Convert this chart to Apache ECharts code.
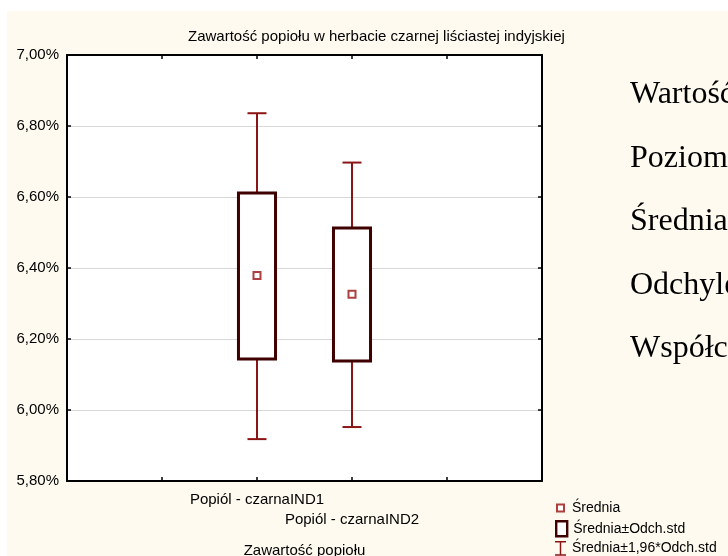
<!DOCTYPE html>
<html>
<head>
<meta charset="utf-8">
<script src="https://cdn.jsdelivr.net/npm/echarts@6/dist/echarts.min.js"></script>
<style>html,body{margin:0;padding:0;background:#fff;}#c{width:728px;height:556px;}</style>
</head>
<body>
<div id="c"></div>
<script>
// ---- data ----
const categories = ['Popiól - czarnaIND1', 'Popiól - czarnaIND2'];
const means   = [6.379, 6.326];
const sdLow   = [6.144, 6.138];
const sdHigh  = [6.611, 6.513];
const ciLow   = [5.918, 5.952];
const ciHigh  = [6.836, 6.697];
const yMin = 5.8, yMax = 7.0, yStep = 0.2;
const chartTitle = 'Zawartość popiołu w herbacie czarnej liściastej indyjskiej';
const xAxisName = 'Zawartość popiołu';
const seriesNames = ['Średnia', 'Średnia±Odch.std', 'Średnia±1,96*Odch.std'];
const sideTexts = ['Wartość', 'Poziom', 'Średnia', 'Odchylenie', 'Współczynnik'];

// category slots: two empty slots on each side as in the reference axis
const slots = ['', ''].concat(categories, ['', '']);
const offset = 2;

const whiskerData = categories.map((c, i) => [i + offset, ciLow[i], ciHigh[i]]);
const boxData = categories.map((c, i) => [i + offset, sdLow[i], sdHigh[i]]);
const meanData = categories.map((c, i) => [i + offset, means[i]]);

const FONT = 'Liberation Sans';
const chart = echarts.init(document.getElementById('c'), null, {renderer: 'canvas'});

const sideGraphics = sideTexts.map((t, i) => ({
  type: 'text', left: 630, top: 79 + i * 63.5, z: 10,
  style: {text: t, font: '32px "Liberation Serif"', fill: '#000'}
}));

chart.setOption({
  backgroundColor: '#fff',
  animation: false,
  title: {
    text: chartTitle, left: 183, top: 24,
    textStyle: {fontFamily: FONT, fontSize: 15, fontWeight: 'normal', color: '#000'}
  },
  graphic: [
    {type: 'rect', z: -100, shape: {x: 7, y: 11, width: 730, height: 560}, style: {fill: '#fefaef'}},
    {type: 'rect', z: -90, shape: {x: 67, y: 55, width: 475, height: 426}, style: {fill: '#ffffff'}}
  ].concat(sideGraphics),
  grid: {left: 67, top: 55, width: 475, height: 426, show: false, containLabel: false, outerBoundsMode: 'none'},
  xAxis: [{
    type: 'category', data: slots, boundaryGap: false, position: 'bottom',
    axisLine: {lineStyle: {color: '#000', width: 2}},
    axisTick: {inside: true, length: 4, interval: 0, lineStyle: {color: '#000', width: 1.5}},
    axisLabel: {
      interval: 0, margin: 9, fontFamily: FONT, fontSize: 15, color: '#000', lineHeight: 20,
      formatter: (v, i) => (i === offset + 1 ? '\n' + v : v)
    },
    name: xAxisName, nameLocation: 'middle', nameGap: 62,
    nameTextStyle: {fontFamily: FONT, fontSize: 15, color: '#000'},
    splitLine: {show: false}
  }, {
    type: 'category', data: slots, boundaryGap: false, position: 'top',
    axisLine: {lineStyle: {color: '#000', width: 2}},
    axisTick: {inside: true, length: 4, interval: 0, lineStyle: {color: '#000', width: 1.5}},
    axisLabel: {show: false}, splitLine: {show: false}
  }],
  yAxis: [{
    type: 'value', min: yMin, max: yMax, interval: yStep, position: 'left',
    axisLine: {show: true, lineStyle: {color: '#000', width: 2}},
    axisTick: {show: true, inside: true, length: 4, lineStyle: {color: '#000', width: 1.5}},
    axisLabel: {
      margin: 8, fontFamily: FONT, fontSize: 15, color: '#000',
      formatter: v => v.toFixed(2).replace('.', ',') + '%'
    },
    splitLine: {show: true, lineStyle: {color: '#d8d8d8', width: 1}}
  }, {
    type: 'value', min: yMin, max: yMax, interval: yStep, position: 'right',
    axisLine: {show: true, lineStyle: {color: '#000', width: 2}},
    axisTick: {show: true, inside: true, length: 4, lineStyle: {color: '#000', width: 1.5}},
    axisLabel: {show: false}, splitLine: {show: false}
  }],
  legend: [
    {left: 556, top: 501, itemWidth: 7, itemHeight: 7, selectedMode: false, padding: 0,
     textStyle: {fontFamily: FONT, fontSize: 14, color: '#000', padding: [0, 0, 0, 3]},
     data: [{name: seriesNames[0], icon: 'rect', itemStyle: {color: '#fff', borderColor: '#9a0f0f', borderWidth: 2}}]},
    {left: 555, top: 520, itemWidth: 11, itemHeight: 15, selectedMode: false, padding: 0,
     textStyle: {fontFamily: FONT, fontSize: 14, color: '#000', padding: [0, 0, 0, 1]},
     data: [{name: seriesNames[1], icon: 'rect', itemStyle: {color: '#fff', borderColor: '#3f0000', borderWidth: 2.4}}]},
    {left: 555, top: 541, itemWidth: 11, itemHeight: 16, selectedMode: false, padding: 0,
     textStyle: {fontFamily: FONT, fontSize: 14, color: '#000', padding: [0, 0, 0, 1]},
     data: [{name: seriesNames[2], icon: 'path://M0,0H12V1.6H6.8V14.4H12V16H0V14.4H5.2V1.6H0Z', itemStyle: {color: '#8b1515'}}]}
  ],
  series: [
    {
      name: seriesNames[2], type: 'custom', z: 2,
      itemStyle: {color: '#8b1515'},
      data: whiskerData,
      renderItem: (params, api) => {
        const x = api.value(0);
        const lo = api.coord([x, api.value(1)]);
        const hi = api.coord([x, api.value(2)]);
        const band = api.size([1, 0])[0];
        const cap = band * 0.1;
        const st = {stroke: '#8b1515', lineWidth: 2};
        return {type: 'group', children: [
          {type: 'line', shape: {x1: lo[0], y1: lo[1], x2: hi[0], y2: hi[1]}, style: st},
          {type: 'line', shape: {x1: hi[0] - cap, y1: hi[1], x2: hi[0] + cap, y2: hi[1]}, style: st},
          {type: 'line', shape: {x1: lo[0] - cap, y1: lo[1], x2: lo[0] + cap, y2: lo[1]}, style: st}
        ]};
      }
    },
    {
      name: seriesNames[1], type: 'custom', z: 3,
      itemStyle: {color: '#3f0000'},
      data: boxData,
      renderItem: (params, api) => {
        const x = api.value(0);
        const lo = api.coord([x, api.value(1)]);
        const hi = api.coord([x, api.value(2)]);
        const band = api.size([1, 0])[0];
        const w = band * 0.39;
        return {type: 'rect', shape: {x: lo[0] - w / 2, y: hi[1], width: w, height: lo[1] - hi[1]},
                style: {fill: '#fff', stroke: '#3f0000', lineWidth: 3}};
      }
    },
    {
      name: seriesNames[0], type: 'scatter', z: 4,
      symbol: 'rect', symbolSize: 7,
      itemStyle: {color: '#fff', borderColor: '#9a0f0f', borderWidth: 2},
      data: meanData
    }
  ]
});
</script>
</body>
</html>
